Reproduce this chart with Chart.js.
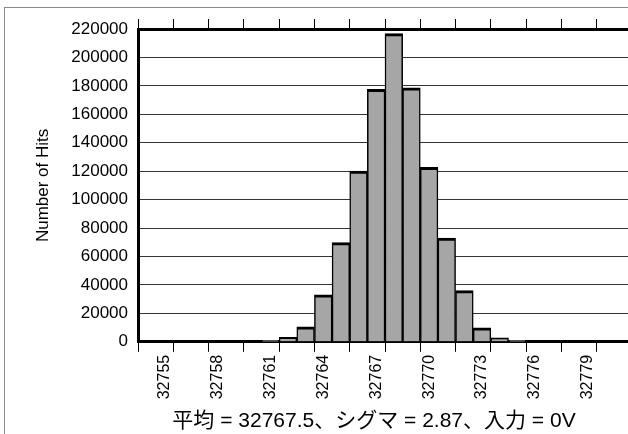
<!DOCTYPE html>
<html>
<head>
<meta charset="utf-8">
<script src="https://cdn.jsdelivr.net/npm/chart.js@4"></script>
<style>
  html, body { margin: 0; padding: 0; background: #fff; overflow: hidden; width: 628px; height: 434px; }
  #frame { position: absolute; left: 4px; top: 7px; width: 700px; height: 500px;
           border-left: 1px solid #888; border-top: 1px solid #888; }
  #histChart { position: absolute; left: 0; top: 0; display: block; }
</style>
</head>
<body>
<div id="frame"></div>
<canvas id="histChart" width="748" height="434"></canvas>
<script>
// ADC output codes (one bar per code)
const codes = [
  '32754', '32755', '32756', '32757', '32758', '32759', '32760',
  '32761', '32762', '32763', '32764', '32765', '32766', '32767',
  '32768', '32769', '32770', '32771', '32772', '32773', '32774',
  '32775', '32776', '32777', '32778', '32779', '32780', '32781'
];
// number of hits for each code
const hits = [
  0, 0, 0, 0, 0, 0, 0,
  1000, 3200, 10500, 33000, 69800, 120000, 177500,
  216800, 178700, 122700, 73000, 36000, 9800, 2800,
  1000, 0, 0, 0, 0, 0, 0
];
// codes that get a label under the axis
const tickLabels = ['32755', '32758', '32761', '32764', '32767', '32770', '32773', '32776', '32779'];
const yTicks = [0, 20000, 40000, 60000, 80000, 100000, 120000, 140000, 160000, 180000, 200000, 220000];

const titleText = '平均 = 32767.5、シグマ = 2.87、入力 = 0V';
const yTitle = 'Number of Hits';

const baseFont = "'Liberation Sans', Arial, sans-serif";

// tick marks only on every second bar boundary
function everyOther(ctx) {
  return ctx.index % 2 === 0 ? '#000' : 'rgba(0,0,0,0)';
}

const ctx = document.getElementById('histChart').getContext('2d');
const histChart = new Chart(ctx, {
  type: 'bar',
  data: {
    labels: codes,
    datasets: [{
      label: 'Hits',
      data: hits,
      backgroundColor: '#a6a6a6',
      borderColor: '#000',
      borderWidth: { top: 3, left: 1.5, right: 1.5, bottom: 0 },
      borderSkipped: 'start',
      barPercentage: 1.0,
      categoryPercentage: 1.0
    }]
  },
  options: {
    responsive: false,
    animation: false,
    layout: { padding: { top: 19, left: 0, right: 0, bottom: 0 } },
    scales: {
      x: {
        type: 'category',
        position: 'bottom',
        offset: true,
        grid: {
          offset: true,
          drawOnChartArea: false,
          drawTicks: true,
          tickLength: 10,
          lineWidth: 1,
          color: everyOther
        },
        border: { display: true, width: 3, color: '#000' },
        ticks: {
          autoSkip: false,
          minRotation: 90,
          maxRotation: 90,
          padding: 3,
          color: '#000',
          font: { family: baseFont, size: 16 },
          callback: function(value) {
            const lbl = this.getLabelForValue(value);
            return tickLabels.includes(lbl) ? lbl : '';
          }
        },
        afterFit: function(scale) { scale.height = 60; }
      },
      x2: {
        type: 'category',
        position: 'top',
        offset: true,
        grid: {
          offset: true,
          drawOnChartArea: false,
          drawTicks: true,
          tickLength: 10,
          lineWidth: 1,
          color: everyOther
        },
        border: { display: true, width: 3, color: '#000' },
        ticks: { display: false },
        afterFit: function(scale) { scale.height = 10; }
      },
      y: {
        position: 'left',
        min: 0,
        max: 220000,
        afterBuildTicks: function(scale) {
          scale.ticks = yTicks.map(v => ({ value: v }));
        },
        grid: {
          drawTicks: false,
          color: '#333',
          lineWidth: 1
        },
        border: { display: true, width: 3, color: '#000' },
        ticks: {
          padding: 10,
          color: '#000',
          font: { family: baseFont, size: 17 },
          callback: value => String(value)
        },
        title: {
          display: true,
          text: yTitle,
          color: '#000',
          font: { family: baseFont, size: 17 },
          padding: { top: 33, bottom: 0 }
        },
        afterFit: function(scale) { scale.width = 138; }
      },
      y2: {
        position: 'right',
        display: true,
        grid: { display: false },
        border: { display: false },
        ticks: { display: false },
        afterFit: function(scale) { scale.width = 116; }
      }
    },
    plugins: {
      legend: { display: false },
      tooltip: { enabled: false },
      title: {
        display: true,
        position: 'bottom',
        fullSize: true,
        text: titleText,
        color: '#000',
        font: { family: "'Liberation Sans', 'Noto Sans CJK JP', sans-serif", size: 21, weight: 'normal' },
        padding: { top: 7, bottom: 0 }
      }
    }
  }
});
</script>
</body>
</html>
